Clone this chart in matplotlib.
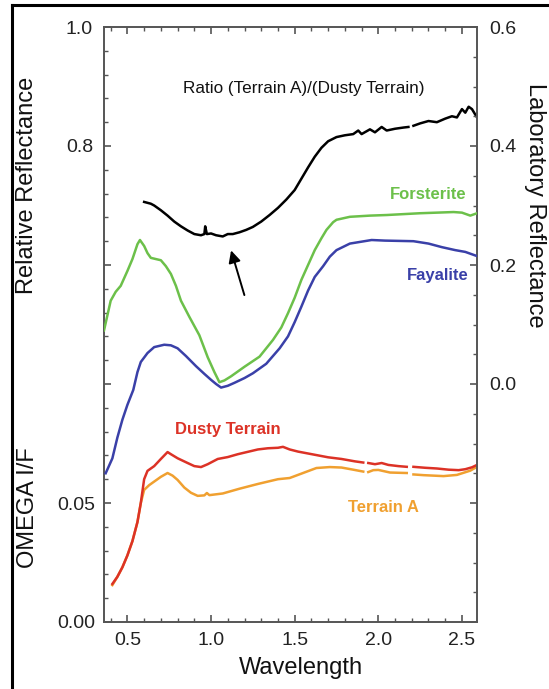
import numpy as np
import matplotlib
matplotlib.use("Agg")
import matplotlib.pyplot as plt
from matplotlib.ticker import MultipleLocator, FixedLocator, FuncFormatter
from matplotlib.lines import Line2D

plt.rcParams['font.family'] = ['Liberation Sans', 'DejaVu Sans']

nan = np.nan

# ---------------- data ----------------
# Ratio (Terrain A)/(Dusty Terrain), relative reflectance
ratio_x = [0.60, 0.64, 0.66, 0.70, 0.74, 0.78, 0.82, 0.86, 0.90, 0.94, 0.96, 0.965, 0.975, 1.00,
           1.03, 1.07, 1.10, 1.13, 1.17, 1.21, 1.25, 1.30, 1.35, 1.40, 1.45, 1.50, 1.54, 1.58,
           1.62, 1.66, 1.70, 1.75, 1.80, 1.85, 1.88, 1.90, 1.95, 1.98, 2.02, 2.05, 2.10, 2.15,
           2.18, 2.19, 2.21, 2.25, 2.30, 2.35, 2.40, 2.44, 2.47, 2.50, 2.52, 2.54, 2.56, 2.59]
ratio_y = [0.706, 0.703, 0.700, 0.692, 0.683, 0.673, 0.665, 0.658, 0.652, 0.650, 0.652, 0.665,
           0.652, 0.653, 0.650, 0.648, 0.652, 0.652, 0.655, 0.659, 0.664, 0.673, 0.684, 0.696,
           0.710, 0.726, 0.745, 0.764, 0.782, 0.797, 0.808, 0.815, 0.818, 0.820, 0.826, 0.820,
           0.828, 0.823, 0.832, 0.826, 0.829, 0.831, 0.832, nan, 0.834, 0.838, 0.842, 0.840,
           0.846, 0.850, 0.848, 0.862, 0.856, 0.866, 0.862, 0.848]

# Forsterite, laboratory reflectance
fo_x = [0.36, 0.40, 0.43, 0.46, 0.50, 0.53, 0.56, 0.575, 0.60, 0.62, 0.64, 0.67, 0.70, 0.73,
        0.76, 0.79, 0.82, 0.87, 0.93, 0.98, 1.02, 1.05, 1.08, 1.12, 1.20, 1.29, 1.37, 1.42,
        1.46, 1.50, 1.54, 1.58, 1.62, 1.66, 1.69, 1.73, 1.75, 1.83, 1.95, 2.05, 2.25, 2.45,
        2.50, 2.55, 2.59]
fo_y = [0.09, 0.14, 0.155, 0.165, 0.19, 0.21, 0.235, 0.242, 0.232, 0.22, 0.212, 0.210, 0.208,
        0.198, 0.185, 0.165, 0.14, 0.113, 0.082, 0.045, 0.02, 0.003, 0.006, 0.013, 0.029,
        0.046, 0.074, 0.095, 0.119, 0.145, 0.175, 0.20, 0.225, 0.245, 0.259, 0.272, 0.276,
        0.281, 0.283, 0.284, 0.287, 0.289, 0.288, 0.283, 0.287]

# Fayalite, laboratory reflectance
fa_x = [0.37, 0.41, 0.44, 0.47, 0.50, 0.535, 0.56, 0.58, 0.62, 0.66, 0.72, 0.76, 0.80, 0.85,
        0.91, 0.96, 1.00, 1.03, 1.06, 1.10, 1.14, 1.20, 1.25, 1.33, 1.41, 1.46, 1.50, 1.54,
        1.58, 1.62, 1.67, 1.71, 1.75, 1.83, 1.96, 2.04, 2.21, 2.30, 2.38, 2.46, 2.52, 2.59]
fa_y = [-0.15, -0.125, -0.09, -0.06, -0.035, -0.01, 0.02, 0.037, 0.052, 0.062, 0.066, 0.065,
        0.060, 0.047, 0.030, 0.017, 0.007, 0.0, -0.006, -0.003, 0.002, 0.010, 0.018, 0.034,
        0.060, 0.080, 0.104, 0.13, 0.157, 0.18, 0.198, 0.214, 0.225, 0.236, 0.242, 0.241,
        0.240, 0.236, 0.230, 0.225, 0.222, 0.215]

# Dusty Terrain, OMEGA I/F
dusty_x = [0.41, 0.44, 0.47, 0.50, 0.53, 0.56, 0.58, 0.60, 0.62, 0.66, 0.70, 0.74, 0.76, 0.80,
           0.86, 0.90, 0.94, 0.98, 1.04, 1.10, 1.16, 1.22, 1.28, 1.34, 1.40, 1.43, 1.47, 1.52,
           1.58, 1.64, 1.70, 1.78, 1.86, 1.91, 1.92, 1.94, 1.98, 2.02, 2.06, 2.12, 2.17, 2.19,
           2.21, 2.28, 2.35, 2.42, 2.48, 2.52, 2.56, 2.59]
dusty_y = [0.016, 0.019, 0.023, 0.028, 0.034, 0.042, 0.050, 0.060, 0.0635, 0.0655, 0.0685,
           0.0714, 0.0705, 0.0688, 0.0668, 0.0655, 0.0651, 0.0663, 0.0685, 0.0693, 0.0705,
           0.0715, 0.0725, 0.0730, 0.0732, 0.0736, 0.0725, 0.0716, 0.0708, 0.0700, 0.0692,
           0.0685, 0.0675, 0.0670, nan, 0.0668, 0.0663, 0.0668, 0.0660, 0.0655, 0.0652, nan,
           0.0652, 0.0648, 0.0645, 0.0640, 0.0638, 0.0642, 0.0650, 0.0660]

# Terrain A, OMEGA I/F
ta_x = [0.41, 0.44, 0.47, 0.50, 0.53, 0.56, 0.58, 0.60, 0.63, 0.66, 0.70, 0.74, 0.77, 0.80,
        0.84, 0.88, 0.92, 0.96, 0.975, 0.99, 1.07, 1.17, 1.28, 1.40, 1.47, 1.55, 1.63, 1.71,
        1.78, 1.85, 1.91, 1.92, 1.94, 1.97, 2.00, 2.07, 2.17, 2.19, 2.21, 2.27, 2.39, 2.47,
        2.55, 2.59]
ta_y = [0.0155, 0.019, 0.023, 0.028, 0.034, 0.042, 0.050, 0.0555, 0.0575, 0.0590, 0.0610,
        0.0626, 0.0615, 0.0597, 0.0565, 0.0543, 0.0530, 0.0532, 0.0542, 0.0533, 0.0540,
        0.0560, 0.0580, 0.0600, 0.0605, 0.0626, 0.0647, 0.0651, 0.0649, 0.0640, 0.0632, nan,
        0.0630, 0.0638, 0.0639, 0.0628, 0.0626, nan, 0.0620, 0.0617, 0.0613, 0.0618, 0.0636,
        0.0652]

x_ticks = [0.5, 1.0, 1.5, 2.0, 2.5]

# ---------------- figure ----------------
W, H = 549, 689
fig = plt.figure(figsize=(W / 100, H / 100), dpi=100)
L, R, T, B = 104, 477, 27, 622
ax = fig.add_axes([L / W, 1 - B / H, (R - L) / W, (B - T) / H])

spine_col = '#555555'
tick_fs = 14

# I/F axis (left, bottom part)
ax.set_xlim(0.36, 2.59)
ax.set_ylim(0.0, 0.25)
ax.xaxis.set_major_locator(FixedLocator(x_ticks))
ax.xaxis.set_minor_locator(MultipleLocator(0.1))
ax.xaxis.set_major_formatter(FuncFormatter(lambda v, p: f"{v:.1f}"))
ax.yaxis.set_major_locator(MultipleLocator(0.05))
ax.yaxis.set_minor_locator(MultipleLocator(0.01))
ax.yaxis.set_major_formatter(FuncFormatter(lambda v, p: f"{v:.2f}" if v < 0.07 else ""))
ax.tick_params(axis='both', which='both', direction='in', colors=spine_col,
               labelcolor='#222222', labelsize=tick_fs)
ax.tick_params(axis='x', which='both', top=True, bottom=True, pad=7)
ax.tick_params(axis='y', which='both', left=True, right=False, pad=6)
ax.tick_params(which='major', length=5, width=1.2)
ax.tick_params(which='minor', length=3, width=1.0)
for s in ax.spines.values():
    s.set_color(spine_col)
    s.set_linewidth(1.4)
ax.spines['right'].set_visible(False)

ax.plot(ta_x, ta_y, color='#f0a030', lw=1.8, zorder=3)
ax.plot(dusty_x, dusty_y, color='#dc3226', lw=1.8, zorder=4)

# Relative reflectance axis (left, upper part)
ax_rel = ax.twinx()
ax_rel.set_ylim(0.0, 1.0)
ax_rel.yaxis.tick_left()
ax_rel.yaxis.set_major_locator(FixedLocator([0.8, 1.0]))
ax_rel.yaxis.set_major_formatter(FuncFormatter(lambda v, p: f"{v:.1f}"))
ax_rel.tick_params(axis='y', which='both', length=0, pad=8, labelsize=tick_fs,
                   labelcolor='#222222', left=True, right=False)
for s in ax_rel.spines.values():
    s.set_visible(False)
ax_rel.plot(ratio_x, ratio_y, color='black', lw=1.8, zorder=5)
ax_rel.annotate('', xy=(1.115, 0.629), xytext=(1.204, 0.545),
                arrowprops=dict(arrowstyle='-|>', color='black', lw=1.4, mutation_scale=18))

# Laboratory reflectance axis (right)
ax_lab = ax.twinx()
ax_lab.set_ylim(-0.4, 0.6)
ax_lab.yaxis.set_major_locator(MultipleLocator(0.2))
ax_lab.yaxis.set_minor_locator(MultipleLocator(0.05))
ax_lab.yaxis.set_major_formatter(FuncFormatter(lambda v, p: f"{abs(v):.1f}" if v > -0.05 else ""))
ax_lab.tick_params(axis='y', which='both', direction='in', colors=spine_col,
                   labelcolor='#222222', labelsize=tick_fs, pad=9)
ax_lab.tick_params(which='major', length=5, width=1.2)
ax_lab.tick_params(which='minor', length=3, width=1.0)
for k, s in ax_lab.spines.items():
    s.set_visible(k == 'right')
    s.set_color(spine_col)
    s.set_linewidth(1.4)
ax_lab.plot(fo_x, fo_y, color='#6cc04a', lw=1.8, zorder=3)
ax_lab.plot(fa_x, fa_y, color='#3a40a8', lw=1.8, zorder=3)

# Curve labels
ax_rel.text(1.552, 0.897, 'Ratio (Terrain A)/(Dusty Terrain)', ha='center', va='center',
            fontsize=12.3, color='#111111')
ax_lab.text(2.30, 0.318, 'Forsterite', ha='center', va='center', fontsize=12,
            fontweight='bold', color='#6cc04a')
ax_lab.text(2.354, 0.183, 'Fayalite', ha='center', va='center', fontsize=12,
            fontweight='bold', color='#3a40a8')
ax.text(1.102, 0.0807, 'Dusty Terrain', ha='center', va='center', fontsize=12,
        fontweight='bold', color='#dc3226')
ax.text(2.031, 0.0479, 'Terrain A', ha='center', va='center', fontsize=12,
        fontweight='bold', color='#f0a030')

# Axis titles
lab_fs = 17
fig.text(27 / W, 1 - 185 / H, 'Relative Reflectance', rotation=90, ha='center', va='center',
         fontsize=lab_fs, color='#111111')
fig.text(28 / W, 1 - 508 / H, 'OMEGA I/F', rotation=90, ha='center', va='center',
         fontsize=lab_fs, color='#111111')
fig.text(535 / W, 1 - 205 / H, 'Laboratory Reflectance', rotation=270, ha='center',
         va='center', fontsize=lab_fs, color='#111111')
fig.text(301 / W, 1 - 668 / H, 'Wavelength', ha='center', va='center', fontsize=lab_fs,
         color='#111111')

# Outer frame (left and top edges visible)
fig.add_artist(Line2D([12 / W, 12 / W], [0, 1 - 5 / H], transform=fig.transFigure,
                      color='black', lw=2.2))
fig.add_artist(Line2D([12 / W, 1], [1 - 5 / H, 1 - 5 / H], transform=fig.transFigure,
                      color='black', lw=2.2))

fig.savefig('out.png', dpi=100)
